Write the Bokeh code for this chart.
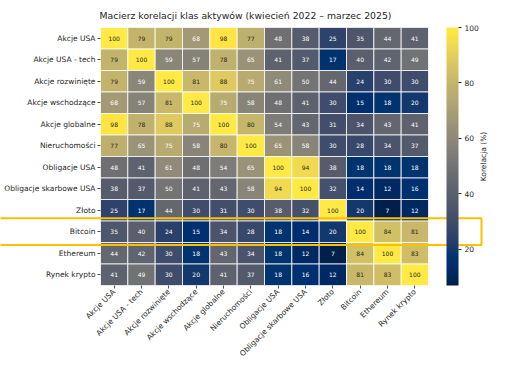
import math
import numpy as np
from bokeh.plotting import figure
from bokeh.models import (ColumnDataSource, LinearColorMapper, ColorBar, FixedTicker,
                          Label, Range1d)
from bokeh.palettes import Cividis256
from bokeh.embed import file_html
from bokeh.resources import INLINE

# ---------------- data ----------------
assets = ["Akcje USA", "Akcje USA - tech", "Akcje rozwinięte", "Akcje wschodzące",
          "Akcje globalne", "Nieruchomości", "Obligacje USA", "Obligacje skarbowe USA",
          "Złoto", "Bitcoin", "Ethereum", "Rynek krypto"]

row_akcje_usa = [100, 79, 79, 68, 98, 77, 48, 38, 25, 35, 44, 41]
row_akcje_tech = [79, 100, 59, 57, 78, 65, 41, 37, 17, 40, 42, 49]
row_rozwiniete = [79, 59, 100, 81, 88, 75, 61, 50, 44, 24, 30, 30]
row_wschodzace = [68, 57, 81, 100, 75, 58, 48, 41, 30, 15, 18, 20]
row_globalne = [98, 78, 88, 75, 100, 80, 54, 43, 31, 34, 43, 41]
row_nieruchomosci = [77, 65, 75, 58, 80, 100, 65, 58, 30, 28, 34, 37]
row_oblig_usa = [48, 41, 61, 48, 54, 65, 100, 94, 38, 18, 18, 18]
row_oblig_skarb = [38, 37, 50, 41, 43, 58, 94, 100, 32, 14, 12, 16]
row_zloto = [25, 17, 44, 30, 31, 30, 38, 32, 100, 20, 7, 12]
row_bitcoin = [35, 40, 24, 15, 34, 28, 18, 14, 20, 100, 84, 81]
row_ethereum = [44, 42, 30, 18, 43, 34, 18, 12, 7, 84, 100, 83]
row_krypto = [41, 49, 30, 20, 41, 37, 18, 16, 12, 81, 83, 100]

rows = [row_akcje_usa, row_akcje_tech, row_rozwiniete, row_wschodzace, row_globalne,
        row_nieruchomosci, row_oblig_usa, row_oblig_skarb, row_zloto, row_bitcoin,
        row_ethereum, row_krypto]

title_text = "Macierz korelacji klas aktywów (kwiecień 2022 – marzec 2025)"
cbar_label = "Korelacja (%)"
cbar_ticks = [20, 40, 60, 80, 100]
highlight_row = "Bitcoin"

# ---------------- build ----------------
vals = np.array(rows, dtype=float)
vmin, vmax = vals.min(), vals.max()
n = len(assets)

def rel_lum(hexcol):
    rgb = np.array([int(hexcol[i:i + 2], 16) for i in (1, 3, 5)]) / 255.0
    rgb = np.where(rgb <= 0.03928, rgb / 12.92, ((rgb + 0.055) / 1.055) ** 2.4)
    return float(rgb.dot([0.2126, 0.7152, 0.0722]))

xs, ys, vs, tcol, labels = [], [], [], [], []
for i in range(n):
    for j in range(n):
        v = vals[i, j]
        idx = min(int((v - vmin) / (vmax - vmin) * 256), 255)
        xs.append(j + 0.5)
        ys.append(i + 0.5)
        vs.append(v)
        labels.append(str(int(v)))
        tcol.append("#262626" if rel_lum(Cividis256[idx]) > 0.408 else "#ffffff")

src = ColumnDataSource(dict(x=xs, y=ys, v=vs, t=labels, tc=tcol))
mapper = LinearColorMapper(palette=Cividis256, low=vmin, high=vmax)

# layout (pixels)
W = 490          # canvas / frame width
LPX = 100        # space for row labels left of the matrix
MW = 328         # matrix width
FH = 258         # matrix height
cw = MW / n      # pixels per cell
RPX = W - LPX - MW

p = figure(frame_width=W, frame_height=FH,
           x_range=Range1d(-LPX / cw, n + RPX / cw), y_range=Range1d(n, 0),
           output_backend="svg", toolbar_location=None,
           min_border_left=0, min_border_right=0, min_border_top=0, min_border_bottom=0)

p.rect(x="x", y="y", width=1, height=1, source=src,
       fill_color={"field": "v", "transform": mapper},
       line_color="white", line_width=0.8)
p.text(x="x", y="y", text="t", source=src, text_color="tc",
       text_align="center", text_baseline="middle", text_font_size="6px",
       text_font={"value": "DejaVu Sans"})

p.title.text = title_text
p.title.align = "center"
p.title.text_font = "DejaVu Sans"
p.title.text_font_style = "normal"
p.title.text_font_size = "9.3px"
p.title.text_color = "#262626"
p.title.standoff = 14

p.grid.visible = False
p.outline_line_color = None
centers = [k + 0.5 for k in range(n)]
for ax in (p.xaxis[0], p.yaxis[0]):
    ax.ticker = FixedTicker(ticks=centers)
    ax.major_label_overrides = {c: name for c, name in zip(centers, assets)}
    ax.axis_line_color = None
    ax.major_tick_in = 0
    ax.major_tick_out = 3
    ax.major_tick_line_color = "#262626"
    ax.major_tick_line_width = 0.8
    ax.minor_tick_line_color = None
    ax.major_label_text_font = "DejaVu Sans"
    ax.major_label_text_font_size = "7.5px"
    ax.major_label_text_color = "#262626"
    ax.major_label_standoff = 2
p.xaxis.major_label_orientation = math.pi / 4
p.yaxis.fixed_location = 0

# highlight box around the Bitcoin row
r = assets.index(highlight_row)
p.quad(left=[-LPX / cw - 1], right=[n + 53 / cw], top=[r - 0.13], bottom=[r + 1.12],
       fill_color=None, line_color="#FFC000", line_width=2)

cb = ColorBar(color_mapper=mapper, ticker=FixedTicker(ticks=cbar_ticks),
              width=12, height=FH, location=(LPX + MW + 18, 0), padding=0, margin=0,
              major_tick_in=0, major_tick_out=3, major_tick_line_color="#262626",
              label_standoff=3, bar_line_color=None,
              major_label_text_font="DejaVu Sans", major_label_text_font_size="7.5px",
              major_label_text_color="#262626", background_fill_color=None)
p.add_layout(cb)

p.add_layout(Label(x=n + 55 / cw, y=n / 2, text=cbar_label,
                   angle=math.pi / 2, text_align="center", text_baseline="middle",
                   text_font="DejaVu Sans", text_font_size="7.5px", text_color="#262626"))

open("out.html", "w").write(file_html(p, INLINE))
